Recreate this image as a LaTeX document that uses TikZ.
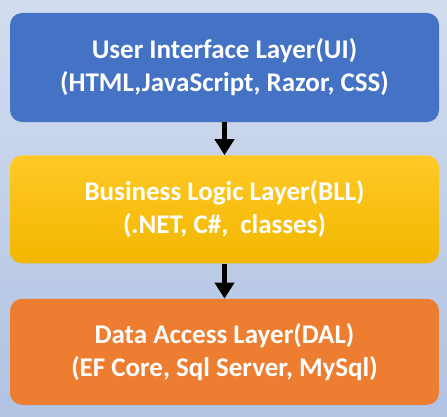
\documentclass[tikz,border=0pt]{standalone}
\usepackage{fontspec}
\setmainfont{Carlito}
\usetikzlibrary{positioning,arrows.meta}
\definecolor{uiblue}{HTML}{4472C4}
\definecolor{bllyellow}{HTML}{FFC000}
\definecolor{dalorange}{HTML}{ED7D31}
\definecolor{bgtop}{HTML}{D3DDEF}
\definecolor{bgbottom}{HTML}{B0C3E3}
\tikzset{
  layer/.style={rounded corners=12pt, minimum width=429pt, align=center,
    text=white, font=\bfseries\fontsize{27}{33}\selectfont, inner sep=0pt},
  flow/.style={line width=5pt, -{Triangle[width=19pt,length=16pt]}}
}
\begin{document}
\begin{tikzpicture}
  \shade [top color=bgtop, bottom color=bgbottom] (0,0) rectangle (447pt,416pt);
  \useasboundingbox (0,0) rectangle (447pt,416pt);
  % layers
  \node [layer, fill=uiblue, minimum height=109pt] (ui) at (224.5pt,348.5pt)
    {User Interface Layer(UI)\\(HTML,JavaScript, Razor, CSS)};
  \node [layer, top color=bllyellow!85!white, bottom color=bllyellow!95!black,
    minimum height=108pt, below=33pt of ui] (bll)
    {Business Logic Layer(BLL)\\(.NET, C\#,\ \ classes)};
  \node [layer, fill=dalorange, minimum height=106pt, below=35pt of bll] (dal)
    {Data Access Layer(DAL)\\(EF Core, Sql Server, MySql)};
  % arrows
  \draw [flow] (ui) -- (bll);
  \draw [flow] (bll) -- (dal);
\end{tikzpicture}
\end{document}
